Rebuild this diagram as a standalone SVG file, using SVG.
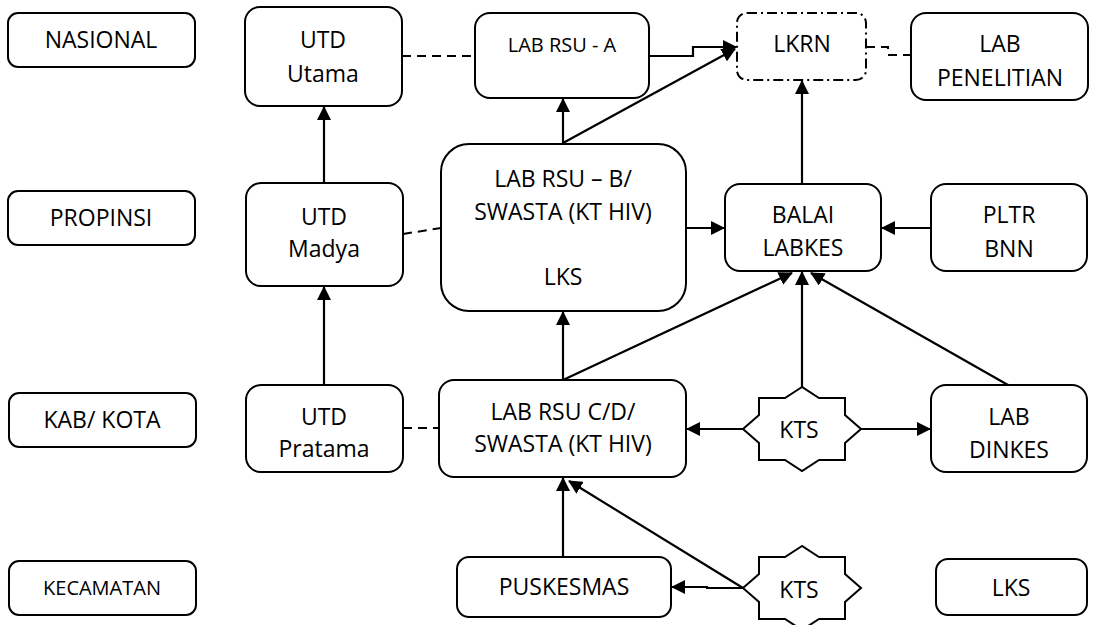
<svg xmlns="http://www.w3.org/2000/svg" width="1093" height="625" viewBox="0 0 1093 625">
  <style>
    .box { fill: #ffffff; stroke: #000000; stroke-width: 2; }
    .lkrn { fill: #ffffff; stroke: #000000; stroke-width: 2; stroke-dasharray: 10 4 2 4; }
    .lbl { font-family: "Open Sans", "Liberation Sans", sans-serif; font-size: 23px; fill: #000000; text-anchor: middle; }
    .sm { font-size: 20px; }
    .link { fill: none; stroke: #000000; stroke-width: 2.2; }
    .dash { fill: none; stroke: #000000; stroke-width: 2; stroke-dasharray: 9 6; }
  </style>
  <defs>
    <marker id="arrow" viewBox="0 0 14 14" refX="13" refY="7" markerWidth="14" markerHeight="14" markerUnits="userSpaceOnUse" orient="auto">
      <path d="M0,0 L14,7 L0,14 z" fill="#000000"/>
    </marker>
  </defs>
  <rect width="1093" height="625" fill="#ffffff"/>

  <!-- connectors -->
  <g id="connectors">
    <!-- blood transfusion chain -->
    <line class="link" x1="324" y1="385" x2="324" y2="287" marker-end="url(#arrow)"/>
    <line class="link" x1="324" y1="183" x2="324" y2="107" marker-end="url(#arrow)"/>
    <!-- dashed peer links -->
    <line class="dash" x1="402" y1="56" x2="475" y2="56"/>
    <line class="dash" x1="403" y1="234" x2="441" y2="228"/>
    <line class="dash" x1="403" y1="428" x2="439" y2="428"/>
    <path class="dash" d="M866,47 H888 V55 H911"/>
    <!-- hospital lab chain -->
    <line class="link" x1="563" y1="144" x2="563" y2="99" marker-end="url(#arrow)"/>
    <line class="link" x1="563" y1="143" x2="735" y2="49" marker-end="url(#arrow)"/>
    <path class="link" d="M649,56 H693 V47 H736" marker-end="url(#arrow)"/>
    <line class="link" x1="802" y1="184" x2="802" y2="81" marker-end="url(#arrow)"/>
    <line class="link" x1="686" y1="228" x2="724" y2="228" marker-end="url(#arrow)"/>
    <line class="link" x1="931" y1="228" x2="882" y2="228" marker-end="url(#arrow)"/>
    <line class="link" x1="563" y1="380" x2="563" y2="312" marker-end="url(#arrow)"/>
    <line class="link" x1="563" y1="380" x2="792" y2="273" marker-end="url(#arrow)"/>
    <line class="link" x1="802" y1="387" x2="802" y2="272" marker-end="url(#arrow)"/>
    <line class="link" x1="1008" y1="385" x2="811" y2="273" marker-end="url(#arrow)"/>
    <line class="link" x1="743" y1="429" x2="687" y2="429" marker-end="url(#arrow)"/>
    <line class="link" x1="861" y1="429" x2="930" y2="429" marker-end="url(#arrow)"/>
    <line class="link" x1="563" y1="557" x2="563" y2="478" marker-end="url(#arrow)"/>
    <line class="link" x1="743" y1="588" x2="569" y2="481" marker-end="url(#arrow)"/>
    <path class="link" d="M743,588 H707 V587 H672" marker-end="url(#arrow)"/>
  </g>

  <!-- level labels -->
  <g id="nasional"><rect class="box" x="8" y="13" width="187" height="54" rx="10"/><text class="lbl" x="101" y="48">NASIONAL</text></g>
  <g id="propinsi"><rect class="box" x="8" y="191" width="187" height="54" rx="10"/><text class="lbl" x="101" y="226">PROPINSI</text></g>
  <g id="kab-kota"><rect class="box" x="9" y="393" width="187" height="54" rx="10"/><text class="lbl" x="102" y="428">KAB/ KOTA</text></g>
  <g id="kecamatan"><rect class="box" x="9" y="561" width="187" height="54" rx="10"/><text class="lbl sm" x="102" y="595">KECAMATAN</text></g>

  <!-- UTD column -->
  <g id="utd-utama"><rect class="box" x="245" y="7" width="157" height="99" rx="15"/><text class="lbl" x="323" y="48">UTD</text><text class="lbl" x="323" y="82">Utama</text></g>
  <g id="utd-madya"><rect class="box" x="246" y="183" width="157" height="103" rx="15"/><text class="lbl" x="324" y="225">UTD</text><text class="lbl" x="324" y="257">Madya</text></g>
  <g id="utd-pratama"><rect class="box" x="246" y="385" width="157" height="87" rx="15"/><text class="lbl" x="324" y="425">UTD</text><text class="lbl" x="324" y="457">Pratama</text></g>

  <!-- hospital labs -->
  <g id="lab-rsu-a"><rect class="box" x="475" y="13" width="174" height="85" rx="15"/><text class="lbl sm" x="562" y="52">LAB RSU - A</text></g>
  <g id="lab-rsu-b"><rect class="box" x="441" y="144" width="245" height="167" rx="28"/><text class="lbl" x="563" y="187">LAB RSU – B/</text><text class="lbl" x="563" y="220">SWASTA (KT HIV)</text><text class="lbl" x="563" y="285">LKS</text></g>
  <g id="lab-rsu-cd"><rect class="box" x="439" y="380" width="247" height="97" rx="15"/><text class="lbl" x="563" y="420">LAB RSU C/D/</text><text class="lbl" x="563" y="452">SWASTA (KT HIV)</text></g>
  <g id="puskesmas"><rect class="box" x="457" y="557" width="214" height="60" rx="12"/><text class="lbl" x="564" y="595">PUSKESMAS</text></g>

  <!-- reference labs -->
  <g id="lkrn"><rect class="lkrn" x="737" y="13" width="129" height="67" rx="10"/><text class="lbl" x="802" y="52">LKRN</text></g>
  <g id="lab-penelitian"><rect class="box" x="911" y="13" width="177" height="87" rx="15"/><text class="lbl" x="1000" y="52">LAB</text><text class="lbl" x="1000" y="86">PENELITIAN</text></g>
  <g id="balai-labkes"><rect class="box" x="725" y="184" width="156" height="87" rx="15"/><text class="lbl" x="803" y="223">BALAI</text><text class="lbl" x="803" y="256">LABKES</text></g>
  <g id="pltr-bnn"><rect class="box" x="931" y="184" width="156" height="87" rx="15"/><text class="lbl" x="1009" y="223">PLTR</text><text class="lbl" x="1009" y="257">BNN</text></g>
  <g id="lab-dinkes"><rect class="box" x="931" y="385" width="156" height="87" rx="15"/><text class="lbl" x="1009" y="425">LAB</text><text class="lbl" x="1009" y="458">DINKES</text></g>
  <g id="lks"><rect class="box" x="936" y="559" width="151" height="56" rx="12"/><text class="lbl" x="1011" y="596">LKS</text></g>

  <!-- counselling & testing sites -->
  <g id="kts-kab" transform="translate(802,429)">
    <polygon class="box" points="0,-42 -17,-31 -43,-31 -43,-14 -59,0 -43,14 -43,31 -17,31 0,42 17,31 43,31 43,14 59,0 43,-14 43,-31 17,-31"/>
    <text class="lbl" x="-3" y="9">KTS</text>
  </g>
  <g id="kts-kec" transform="translate(802,588)">
    <polygon class="box" points="0,-42 -17,-31 -43,-31 -43,-14 -59,0 -43,14 -43,31 -17,31 0,42 17,31 43,31 43,14 59,0 43,-14 43,-31 17,-31"/>
    <text class="lbl" x="-3" y="10">KTS</text>
  </g>
</svg>
